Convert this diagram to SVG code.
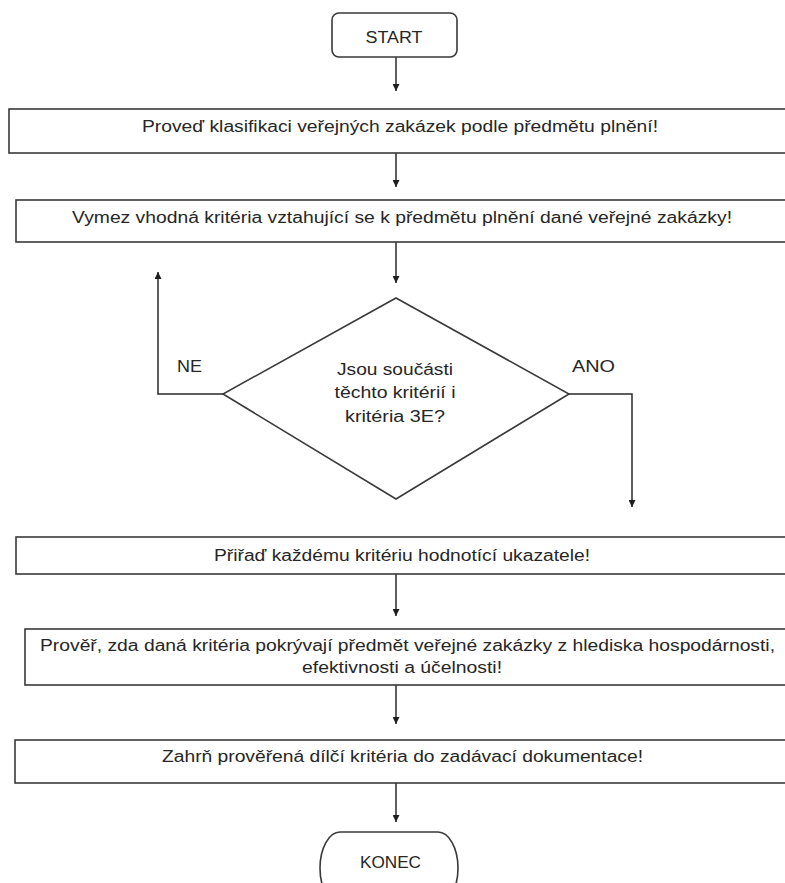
<svg xmlns="http://www.w3.org/2000/svg" width="785" height="883" viewBox="0 0 785 883">
<style>
.shape{fill:#fff;stroke:#3a3a3a;stroke-width:1.6}
.t{font-family:"Liberation Sans",Arial,sans-serif;font-size:16px;fill:#262626;text-anchor:middle}
.conn{fill:none;stroke:#2a2a2a;stroke-width:1.5}
</style>
<defs>
<marker id="ah" viewBox="0 0 10 10" refX="10" refY="5" markerWidth="7" markerHeight="7" markerUnits="userSpaceOnUse" orient="auto">
<path d="M0,0 L10,5 L0,10 Z" fill="#1e1e1e"/>
</marker>
</defs>
<rect width="785" height="883" fill="#fff"/>
<g id="connectors">
<line class="conn" x1="396" y1="57" x2="396" y2="91" marker-end="url(#ah)"/>
<line class="conn" x1="396" y1="153" x2="396" y2="187" marker-end="url(#ah)"/>
<line class="conn" x1="396" y1="242" x2="396" y2="283" marker-end="url(#ah)"/>
<polyline class="conn" points="223,394 158,394 158,272" marker-end="url(#ah)"/>
<polyline class="conn" points="569,394 632,394 632,507" marker-end="url(#ah)"/>
<line class="conn" x1="396" y1="574" x2="396" y2="616" marker-end="url(#ah)"/>
<line class="conn" x1="396" y1="685" x2="396" y2="724" marker-end="url(#ah)"/>
<line class="conn" x1="396" y1="783" x2="396" y2="822" marker-end="url(#ah)"/>
</g>
<g id="start">
<rect class="shape" x="332" y="13" width="125" height="44" rx="7"/>
<text class="t" x="394" y="43" font-size="15" textLength="57" lengthAdjust="spacingAndGlyphs">START</text>
</g>
<g id="step1">
<rect class="shape" x="9" y="109" width="790" height="44"/>
<text class="t" x="400" y="132" textLength="516" lengthAdjust="spacingAndGlyphs">Proveď klasifikaci veřejných zakázek podle předmětu plnění!</text>
</g>
<g id="step2">
<rect class="shape" x="16" y="200" width="790" height="42"/>
<text class="t" x="402" y="223" textLength="660" lengthAdjust="spacingAndGlyphs">Vymez vhodná kritéria vztahující se k předmětu plnění dané veřejné zakázky!</text>
</g>
<g id="decision">
<polygon class="shape" points="396,298 569,394 396,499 223,394"/>
<text class="t" x="395" y="375" textLength="116" lengthAdjust="spacingAndGlyphs">Jsou součásti</text>
<text class="t" x="395" y="398" textLength="121" lengthAdjust="spacingAndGlyphs">těchto kritérií i</text>
<text class="t" x="395" y="422" textLength="100" lengthAdjust="spacingAndGlyphs">kritéria 3E?</text>
</g>
<g id="label-ne">
<text class="t" x="189.5" y="372" textLength="25" lengthAdjust="spacingAndGlyphs">NE</text>
</g>
<g id="label-ano">
<text class="t" x="593.5" y="372" textLength="43" lengthAdjust="spacingAndGlyphs">ANO</text>
</g>
<g id="step3">
<rect class="shape" x="16" y="537" width="790" height="37"/>
<text class="t" x="402" y="561" textLength="376" lengthAdjust="spacingAndGlyphs">Přiřaď každému kritériu hodnotící ukazatele!</text>
</g>
<g id="step4">
<rect class="shape" x="25" y="629" width="790" height="56"/>
<text class="t" x="407.5" y="651" textLength="735" lengthAdjust="spacingAndGlyphs">Prověř, zda daná kritéria pokrývají předmět veřejné zakázky z hlediska hospodárnosti,</text>
<text class="t" x="402" y="673" textLength="200" lengthAdjust="spacingAndGlyphs">efektivnosti a účelnosti!</text>
</g>
<g id="step5">
<rect class="shape" x="15" y="740" width="790" height="43"/>
<text class="t" x="402.5" y="762" textLength="481" lengthAdjust="spacingAndGlyphs">Zahrň prověřená dílčí kritéria do zadávací dokumentace!</text>
</g>
<g id="end">
<path class="shape" d="M340,832 H438 A20,36 0 0 1 438,904 H340 A20,36 0 0 1 340,832 Z"/>
<text class="t" x="390.5" y="868" font-size="15" textLength="61" lengthAdjust="spacingAndGlyphs">KONEC</text>
</g>
</svg>
